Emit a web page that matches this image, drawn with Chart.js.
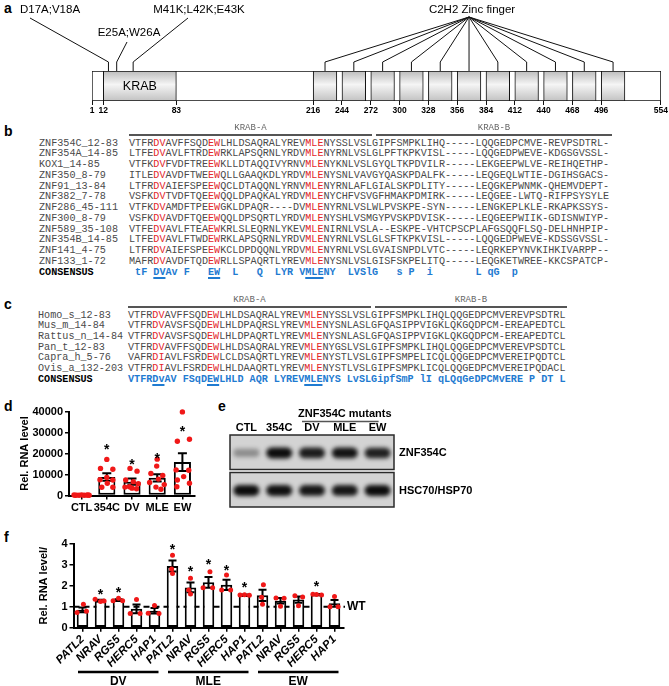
<!DOCTYPE html>
<html>
<head>
<meta charset="utf-8">
<script src="https://cdn.jsdelivr.net/npm/chart.js@4.4.1/dist/chart.umd.min.js"></script>
<style>
html,body{margin:0;padding:0;background:#fff;}
body{width:669px;height:686px;position:relative;overflow:hidden;}
canvas{position:absolute;display:block;}
.plabel{position:absolute;font:bold 14px "Liberation Sans",Arial,sans-serif;line-height:14px;color:#000;}
.mono{position:absolute;font-family:"Liberation Mono","Courier New",monospace;font-size:10.15px;white-space:pre;color:#4a4a4a;}
.red{color:#e3262a;}
.cons{color:#1f7bd1;font-weight:bold;}
.cname{color:#000;font-weight:bold;}
.ul{text-decoration:underline;text-decoration-thickness:1.5px;text-underline-offset:2px;}
.hline{position:absolute;background:#555;height:2px;}
.htext{position:absolute;font-family:"Liberation Mono","Courier New",monospace;font-size:9px;color:#666;line-height:10px;transform:translateX(-50%);white-space:pre;}
</style>
</head>
<body>
<script>
// ================= DATA =================
// Panel a : ZNF354C protein map
const proteinLength = 554;
const domainNames = ['KRAB'];
const domainStarts = [12];
const domainEnds = [83];
const zincFingerStarts = [216, 244, 272, 300, 328, 356, 384, 412, 440, 468, 496];
const zincFingerLength = 23;
const proteinTicks = [1, 12, 83, 216, 244, 272, 300, 328, 356, 384, 412, 440, 468, 496, 554];
const mutationLabels = ['D17A;V18A', 'E25A;W26A', 'M41K;L42K;E43K'];
const mutationSites = [17, 25, 41];
const zincFingerLabel = 'C2H2 Zinc finger';

// Panel b : KRAB alignment of paralogs
const bNames = ['ZNF354C_12-83','ZNF354A_14-85','KOX1_14-85','ZNF350_8-79','ZNF91_13-84','ZNF382_7-78','ZNF286_45-111','ZNF300_8-79','ZNF589_35-108','ZNF354B_14-85','ZNF141_4-75','ZNF133_1-72'];
const bSeqs = [
 'VTFRDVAVFFSQDEWLHLDSAQRALYREVMLENYSSLVSLGIPFSMPKLIHQ-----LQQGEDPCMVE-REVPSDTRL-',
 'LTFEDVAVLFTRDEWRKLAPSQRNLYRDVMLENYRNLVSLGLPFTKPKVISL-----LQQGEDPWEVE-KDGSGVSSL-',
 'VTFKDVFVDFTREEWKLLDTAQQIVYRNVMLENYKNLVSLGYQLTKPDVILR-----LEKGEEPWLVE-REIHQETHP-',
 'ITLEDVAVDFTWEEWQLLGAAQKDLYRDVMLENYSNLVAVGYQASKPDALFK-----LEQGEQLWTIE-DGIHSGACS-',
 'LTFRDVAIEFSPEEWQCLDTAQQNLYRNVMLENYRNLAFLGIALSKPDLITY-----LEQGKEPWNMK-QHEMVDEPT-',
 'VSFKDVTVDFTQEEWQQLDPAQKALYRDVMLENYCHFVSVGFHMAKPDMIRK-----LEQGEE-LWTQ-RIFPSYSYLE',
 'VTFKDVAMDFTPEEWGKLDPAQR----DVMLENYRNLVSLWLPVSKPE-SYN-----LENGKEPLKLE-RKAPKSSYS-',
 'VSFKDVAVDFTQEEWQQLDPSQRTLYRDVMLENYSHLVSMGYPVSKPDVISK-----LEQGEEPWIIK-GDISNWIYP-',
 'VTFEDVAVLFTEAEWKRLSLEQRNLYKEVMLENIRNLVSLA--ESKPE-VHTCPSCPLAFGSQQFLSQ-DELHNHPIP-',
 'LTFEDVAVLFTWDEWRKLAPSQRNLYRDVMLENYRNLVSLGLSFTKPKVISL-----LQQGEDPWEVE-KDSSGVSSL-',
 'LTFRDVAIEFSPEEWKCLDPDQQNLYRDVMLENYRNLVSLGVAISNPDLVTC-----LEQRKEPYNVKIHKIVARPP--',
 'MAFRDVAVDFTQDEWRLLSPAQRTLYREVMLENYSNLVSLGISFSKPELITQ-----LEQGKETWREE-KKCSPATCP-'
];
const bConsensus = ' tF DVAv F   EW  L   Q  LYR VMLENY  LVSlG   s P  i       L qG  p';

// Panel c : KRAB alignment of orthologs
const cNames = ['Homo_s_12-83','Mus_m_14-84','Rattus_n_14-84','Pan_t_12-83','Capra_h_5-76','Ovis_a_132-203'];
const cSeqs = [
 'VTFRDVAVFFSQDEWLHLDSAQRALYREVMLENYSSLVSLGIPFSMPKLIHQLQQGEDPCMVEREVPSDTRL',
 'VTFRDVAVSFSQDEWLHLDPAQRSLYREVMLENYSNLASLGFQASIPPVIGKLQKGQDPCM-EREAPEDTCL',
 'VTFRDVAVSFSQDEWLHLDPAQRTLYREVMLENYSNLASLGFQASIPPVIGKLQKGQDPCM-EREAPEDTCL',
 'VTFRDVAVFFSQDEWLHLDSAQRALYREVMLENYGSLVSLGIPFSMPKLIHQLQQGEDPCMVEREVPSDTCL',
 'VAFRDIAVLFSRDEWLCLDSAQRTLYREVMLENYSTLVSLGIPFSMPELICQLQQGEDPCMVEREIPQDTCL',
 'VTFRDIAVLFSRDEWLHLDAAQRTLYREVMLENYSTLVSLGIPFSMPKLICQLQQGEDPCMVEREIPQDACL'
];
const cConsensus = 'VTFRDvAV FSqDEWLHLD AQR LYREVMLENYS LvSLGipfSmP lI qLQqGeDPCMvERE P DT L';
const mutatedColumns = [4, 5, 13, 14, 29, 30, 31];
const underlinedRuns = [[4, 5], [13, 14], [29, 31]];
const krabLabels = ['KRAB-A', 'KRAB-B'];

// Panel d : RNA levels
const dCategories = ['CTL', '354C', 'DV', 'MLE', 'EW'];
const dMeans = [150, 8800, 6600, 8400, 15900];
const dSems = [40, 1800, 1450, 1750, 4200];
const dPoints = [
 [250, 180, 120, 300, 90, 200, 150, 60, 260],
 [17200, 12900, 12500, 8600, 7500, 7400, 5800, 3900, 3900],
 [12900, 11600, 7400, 6600, 5600, 4000, 3500, 3200, 4200],
 [17300, 14000, 10500, 9500, 7800, 6200, 5200, 4000, 3000],
 [39800, 26800, 25800, 12200, 12000, 9000, 7400, 5800, 4200]
];
const dStars = [null, 23300, 16100, 19300, 32100];
const dTicks = [0, 10000, 20000, 30000, 40000];

// Panel e : western blot
const eLanes = ['CTL', '354C', 'DV', 'MLE', 'EW'];
const eBlotNames = ['ZNF354C', 'HSC70/HSP70'];
const eZNF354C = [0.35, 1, 0.92, 0.97, 0.9];
const eHSC70 = [1, 0.98, 0.95, 0.95, 1];
const eGroupLabel = 'ZNF354C mutants';

// Panel f : target genes
const fGroups = ['DV', 'MLE', 'EW'];
const fGenes = ['PATL2', 'NRAV', 'RGS5', 'HERC5', 'HAP1'];
const fMeans = [0.85, 1.29, 1.32, 0.90, 0.81, 2.94, 1.92, 2.16, 2.04, 1.56, 1.54, 1.28, 1.34, 1.58, 1.16];
const fSems = [0.11, 0.04, 0.04, 0.21, 0.13, 0.26, 0.23, 0.26, 0.24, 0.02, 0.27, 0.13, 0.15, 0.02, 0.16];
const fPoints = [
 [1.12, 0.72, 0.78], [1.36, 1.25, 1.27], [1.40, 1.28, 1.28], [1.34, 0.68, 0.68], [1.06, 0.69, 0.68],
 [3.45, 2.80, 2.58], [2.35, 1.80, 1.60], [2.67, 1.90, 1.90], [2.51, 1.80, 1.80], [1.56, 1.57, 1.55],
 [2.05, 1.45, 1.12], [1.42, 1.40, 1.02], [1.52, 1.46, 1.04], [1.59, 1.58, 1.56], [1.48, 1.00, 1.00]
];
const fStars = [null, 1.75, 1.83, null, null, 3.86, 2.83, 3.14, 2.90, 2.07, null, null, null, 2.11, null];
const fTicks = [0, 1, 2, 3, 4];
const fReference = 1;
const fReferenceLabel = 'WT';

// ================= LAYOUT (positions / styles) =================
const FONT = '"Liberation Sans", Arial, Helvetica, sans-serif';
const RED = '#f01818';
const dJitter = [
 [-0.3, -0.2, -0.1, 0, 0.1, 0.2, 0.3, -0.25, 0.25],
 [0, -0.25, 0.24, 0, -0.27, 0.24, 0.02, -0.2, 0.24],
 [-0.08, 0.2, -0.25, 0.05, 0.25, -0.28, 0, 0.18, -0.1],
 [0, -0.02, -0.25, 0.22, 0.05, -0.3, 0.28, -0.05, 0.15],
 [0, 0.28, -0.2, -0.25, 0.25, 0.05, -0.2, 0.28, -0.22]
];
const fJitter = [
 [0.05, -0.3, 0.22], [-0.3, 0, 0.2], [0, -0.3, 0.23], [0, -0.35, 0.2], [0, -0.35, 0.25],
 [0, -0.05, 0], [0, -0.1, 0], [0.08, -0.3, 0.23], [0, -0.27, 0.23], [-0.25, 0, 0.27],
 [0.05, -0.05, 0], [-0.25, 0.2, 0], [-0.2, 0.23, 0], [-0.2, 0, 0.28], [0, -0.25, 0.2]
];

Chart.defaults.font.family = FONT;
Chart.defaults.color = '#000';
Chart.defaults.animation = false;
Chart.defaults.plugins.legend.display = false;
Chart.defaults.plugins.tooltip.enabled = false;

function mkCanvas(left, top, w, h) {
  const c = document.createElement('canvas');
  c.width = w; c.height = h;
  c.style.left = left + 'px'; c.style.top = top + 'px';
  c.style.width = w + 'px'; c.style.height = h + 'px';
  document.body.appendChild(c);
  return c;
}
function addDiv(cls, left, top, html) {
  const d = document.createElement('div');
  d.className = cls; d.style.left = left + 'px'; d.style.top = top + 'px';
  d.innerHTML = html; document.body.appendChild(d); return d;
}

// panel letters
[['a', 4, 1], ['b', 4, 124], ['c', 4, 297], ['d', 4, 399], ['e', 218, 399], ['f', 4, 530]]
  .forEach(([t, x, y]) => addDiv('plabel', x, y, t));

// ================= Panel a =================
const aLayout = { stub: 9, apexY: 17, textY: 10,
  mutText: [[50, 10], [129, 33], [199, 10]],
  mutLineEnd: [[30, 18], [127, 42], [188, 18]] };
function domainFill(ctx) {
  const ch = ctx.chart, a = ch.chartArea;
  if (!a) return '#dddddd';
  const g = ch.ctx.createLinearGradient(0, a.top, 0, a.bottom);
  g.addColorStop(0, '#bcbcbc'); g.addColorStop(0.45, '#f5f5f5'); g.addColorStop(1, '#c2c2c2');
  return g;
}
const barBase = { borderColor: '#111', borderWidth: 1, borderSkipped: false, grouped: false, barThickness: 30 };
const aDatasets = [];
zincFingerStarts.forEach(s => aDatasets.push(Object.assign({ label: 'ZF', data: [[s, s + zincFingerLength]], backgroundColor: domainFill }, barBase)));
domainNames.forEach((n, i) => aDatasets.push(Object.assign({ label: n, data: [[domainStarts[i], domainEnds[i]]], backgroundColor: domainFill }, barBase)));
aDatasets.push(Object.assign({ label: 'protein', data: [[1, proteinLength]], backgroundColor: '#ffffff' }, barBase));

new Chart(mkCanvas(0, 0, 669, 125), {
  type: 'bar',
  data: { labels: [''], datasets: aDatasets },
  options: {
    responsive: false, indexAxis: 'y',
    layout: { padding: { left: 92, right: 7, top: 71, bottom: 10 } },
    scales: {
      x: { type: 'linear', min: 1, max: proteinLength,
        afterBuildTicks: s => { s.ticks = proteinTicks.map(v => ({ value: v })); },
        grid: { display: true, drawOnChartArea: false, drawTicks: true, tickLength: 4, color: '#111', lineWidth: 1 },
        border: { display: false },
        ticks: { autoSkip: false, maxRotation: 0, padding: 1, font: { size: 8.5, weight: 'bold' }, color: '#000' },
        afterFit: s => { s.height = 14; } },
      y: { display: false }
    }
  },
  plugins: [{
    id: 'aAnnot',
    afterDatasetsDraw(chart) {
      const { ctx, chartArea: ar, scales: { x } } = chart;
      ctx.save();
      ctx.strokeStyle = '#111'; ctx.lineWidth = 1;
      mutationSites.forEach((aa, i) => {
        const px = x.getPixelForValue(aa);
        const [lx, ly] = aLayout.mutLineEnd[i];
        ctx.beginPath(); ctx.moveTo(px, ar.top); ctx.lineTo(px, ar.top - aLayout.stub); ctx.lineTo(lx, ly); ctx.stroke();
      });
      const first = zincFingerStarts[0] + zincFingerLength / 2;
      const last = zincFingerStarts[zincFingerStarts.length - 1] + zincFingerLength / 2;
      const apexX = x.getPixelForValue((first + last) / 2);
      zincFingerStarts.forEach(s => {
        const px = x.getPixelForValue(s + zincFingerLength / 2);
        ctx.beginPath(); ctx.moveTo(px, ar.top); ctx.lineTo(px, ar.top - aLayout.stub); ctx.lineTo(apexX, aLayout.apexY); ctx.stroke();
      });
      ctx.fillStyle = '#000'; ctx.textAlign = 'center'; ctx.textBaseline = 'middle';
      ctx.font = '11.5px ' + FONT;
      mutationLabels.forEach((t, i) => ctx.fillText(t, aLayout.mutText[i][0], aLayout.mutText[i][1]));
      ctx.fillText(zincFingerLabel, apexX + 3, aLayout.textY);
      ctx.font = '12.5px ' + FONT;
      domainNames.forEach((n, i) => ctx.fillText(n, x.getPixelForValue((domainStarts[i] + domainEnds[i]) / 2), (ar.top + ar.bottom) / 2 + 1));
      ctx.restore();
    }
  }]
});

// ================= Panels b & c (alignments) =================
function seqHTML(seq) {
  let h = '';
  for (let i = 0; i < seq.length; i++) h += mutatedColumns.includes(i) ? '<span class="red">' + seq[i] + '</span>' : seq[i];
  return h;
}
function consHTML(seq) {
  let h = '';
  for (let i = 0; i < seq.length; i++) {
    const run = underlinedRuns.find(r => r[0] === i);
    if (run) { h += '<span class="ul">' + seq.slice(run[0], run[1] + 1) + '</span>'; i = run[1]; continue; }
    h += seq[i];
  }
  return h;
}
function buildAlignment(names, seqs, consensus, L) {
  const half = L.rowH / 2;
  names.forEach((n, i) => {
    const y = L.firstRow + i * L.rowH - half;
    addDiv('mono', L.nameX, y, n).style.lineHeight = L.rowH + 'px';
    addDiv('mono', L.seqX, y, seqHTML(seqs[i])).style.lineHeight = L.rowH + 'px';
  });
  const cy = L.firstRow + names.length * L.rowH - half;
  addDiv('mono cname', L.nameX, cy, 'CONSENSUS').style.lineHeight = L.rowH + 'px';
  addDiv('mono cons', L.seqX, cy, consHTML(consensus)).style.lineHeight = L.rowH + 'px';
  L.lines.forEach((ln, k) => {
    const d = addDiv('hline', ln[0], L.lineY, ''); d.style.width = (ln[1] - ln[0]) + 'px';
    addDiv('htext', (ln[0] + ln[1]) / 2, L.textY - 5, krabLabels[k]);
  });
}
buildAlignment(bNames, bSeqs, bConsensus, { nameX: 39, seqX: 129, firstRow: 144, rowH: 10.75, lineY: 134, textY: 128, lines: [[129, 372], [376, 612]] });
buildAlignment(cNames, cSeqs, cConsensus, { nameX: 38, seqX: 128, firstRow: 316, rowH: 10.7, lineY: 306, textY: 300, lines: [[128, 371], [375, 567]] });

// ================= helpers for bar+dot charts =================
function errorBarPlugin(means, sems, cap) {
  return { id: 'errbars', afterDatasetDraw(chart, args) {
    if (args.meta.type !== 'bar') return;
    const { ctx } = chart, y = chart.scales.y;
    ctx.save(); ctx.strokeStyle = '#000'; ctx.lineWidth = 2;
    args.meta.data.forEach((el, i) => {
      const hi = y.getPixelForValue(means[i] + sems[i]);
      const lo = y.getPixelForValue(Math.max(0, means[i] - sems[i]));
      ctx.beginPath();
      ctx.moveTo(el.x, hi); ctx.lineTo(el.x, lo);
      ctx.moveTo(el.x - cap, hi); ctx.lineTo(el.x + cap, hi);
      ctx.moveTo(el.x - cap, lo); ctx.lineTo(el.x + cap, lo);
      ctx.stroke();
    });
    ctx.restore();
  } };
}
function drawStars(chart, stars, size) {
  const { ctx } = chart, x = chart.scales.x, y = chart.scales.y;
  ctx.save(); ctx.fillStyle = '#000'; ctx.font = 'bold ' + size + 'px ' + FONT;
  ctx.textAlign = 'center'; ctx.textBaseline = 'alphabetic';
  stars.forEach((v, i) => { if (v !== null) ctx.fillText('*', x.getPixelForValue(i), y.getPixelForValue(v) + size * 0.55); });
  ctx.restore();
}
const axisGrid = { display: true, drawOnChartArea: false, drawTicks: true, tickLength: 4, color: '#000', lineWidth: 1.5, offset: false };
const axisBorder = { display: true, width: 2, color: '#000' };

// ================= Panel d =================
new Chart(mkCanvas(0, 395, 215, 140), {
  type: 'bar',
  data: { labels: dCategories, datasets: [
    { type: 'scatter', xAxisID: 'xj', yAxisID: 'y', order: 0, clip: false,
      data: dPoints.flatMap((arr, ci) => arr.map((v, k) => ({ x: ci + dJitter[ci][k], y: v }))),
      pointRadius: 2.7, pointBackgroundColor: RED, pointBorderWidth: 0 },
    { type: 'bar', xAxisID: 'x', yAxisID: 'y', order: 1, data: dMeans, grouped: false,
      backgroundColor: '#fff', borderColor: '#000', borderWidth: 2, borderSkipped: false,
      barPercentage: 0.68, categoryPercentage: 1 }
  ] },
  options: {
    responsive: false,
    layout: { padding: { left: 0, top: 16.5, right: 20, bottom: 14.5 } },
    scales: {
      x: { type: 'category', offset: true, grid: axisGrid, border: axisBorder,
        ticks: { font: { size: 11, weight: 'bold' }, padding: 2, maxRotation: 0, autoSkip: false },
        afterFit: s => { s.height = 25; } },
      xj: { type: 'linear', offset: false, grid: { offset: false }, min: -0.5, max: dCategories.length - 0.5, display: false },
      y: { type: 'linear', min: 0, max: 40000,
        afterBuildTicks: s => { s.ticks = dTicks.map(v => ({ value: v })); },
        grid: axisGrid, border: axisBorder,
        ticks: { font: { size: 11, weight: 'bold' }, padding: 2, callback: v => String(v) },
        title: { display: true, text: 'Rel. RNA level', font: { size: 11, weight: 'bold' }, padding: { top: 18.5, bottom: 0 } },
        afterFit: s => { s.width = 69; } }
    }
  },
  plugins: [errorBarPlugin(dMeans, dSems, 4.5), { id: 'dstars', afterDraw(chart) { drawStars(chart, dStars, 14); } }]
});

// ================= Panel e (blot) =================
const eLayout = { gap: 3, bandW: 26, bandH: 11, bandY: 0.52, blur: 2.2, laneLabelY: 33, groupTextY: 19, groupLineY: 26.5 };
new Chart(mkCanvas(220, 395, 449, 125), {
  type: 'bar',
  data: { labels: eLanes, datasets: [
    { label: eBlotNames[0], data: eZNF354C, backgroundColor: 'rgba(0,0,0,0)' },
    { label: eBlotNames[1], data: eHSC70, backgroundColor: 'rgba(0,0,0,0)' }
  ] },
  options: {
    responsive: false,
    layout: { padding: { left: 10, right: 275, top: 30, bottom: 13 } },
    scales: {
      x: { position: 'top', grid: { display: false, drawTicks: false }, border: { display: false },
        ticks: { display: false }, afterFit: s => { s.height = 10; } },
      y: { display: false, min: 0, max: 1 }
    }
  },
  plugins: [{
    id: 'blot',
    beforeDatasetsDraw(chart) {
      const { ctx, chartArea: a, scales: { x } } = chart;
      const rowH = (a.bottom - a.top - eLayout.gap) / 2;
      chart.data.datasets.forEach((ds, r) => {
        const top = a.top + r * (rowH + eLayout.gap);
        ctx.save();
        ctx.fillStyle = '#d3d3d3';
        ctx.fillRect(a.left, top, a.right - a.left, rowH);
        ctx.beginPath(); ctx.rect(a.left, top, a.right - a.left, rowH); ctx.clip();
        ctx.filter = 'blur(' + eLayout.blur + 'px)';
        ds.data.forEach((v, i) => {
          const cx = x.getPixelForValue(i), cy = top + rowH * eLayout.bandY;
          const h = eLayout.bandH * (0.6 + 0.4 * v);
          ctx.fillStyle = 'rgba(12,12,12,' + v + ')';
          ctx.beginPath();
          ctx.roundRect(cx - eLayout.bandW / 2, cy - h / 2, eLayout.bandW, h, h / 2);
          ctx.fill();
        });
        ctx.restore();
        ctx.save();
        ctx.strokeStyle = '#2a2a2a'; ctx.lineWidth = 1.5;
        ctx.strokeRect(a.left, top, a.right - a.left, rowH);
        ctx.fillStyle = '#000'; ctx.font = 'bold 11px ' + FONT; ctx.textAlign = 'left'; ctx.textBaseline = 'middle';
        ctx.fillText(ds.label, a.right + 5, top + rowH / 2 + 1);
        ctx.restore();
      });
      ctx.save();
      ctx.fillStyle = '#000'; ctx.font = 'bold 11px ' + FONT; ctx.textAlign = 'center'; ctx.textBaseline = 'middle';
      chart.data.labels.forEach((l, i) => ctx.fillText(l, x.getPixelForValue(i), eLayout.laneLabelY));
      const x0 = x.getPixelForValue(2) - 10, x1 = x.getPixelForValue(4) + 1;
      ctx.strokeStyle = '#555'; ctx.lineWidth = 1.5;
      ctx.beginPath(); ctx.moveTo(x0, eLayout.groupLineY); ctx.lineTo(x1, eLayout.groupLineY); ctx.stroke();
      ctx.fillText(eGroupLabel, (x.getPixelForValue(2) + x.getPixelForValue(4)) / 2, eLayout.groupTextY);
      ctx.restore();
    }
  }]
});

// ================= Panel f =================
const fLabels = fGroups.flatMap(() => fGenes);
const fLayout = { groupLineY: 137, groupTextY: 147, refEndX: 345, refTextX: 347 };
new Chart(mkCanvas(0, 535, 369, 151), {
  type: 'bar',
  data: { labels: fLabels, datasets: [
    { type: 'scatter', xAxisID: 'xj', yAxisID: 'y', order: 0, clip: false,
      data: fPoints.flatMap((arr, ci) => arr.map((v, k) => ({ x: ci + fJitter[ci][k], y: v }))),
      pointRadius: 2.5, pointBackgroundColor: RED, pointBorderWidth: 0 },
    { type: 'bar', xAxisID: 'x', yAxisID: 'y', order: 1, data: fMeans, grouped: false,
      backgroundColor: '#fff', borderColor: '#000', borderWidth: 2, borderSkipped: false,
      barPercentage: 0.64, categoryPercentage: 1 }
  ] },
  options: {
    responsive: false,
    layout: { padding: { left: 0, top: 8.7, right: 25.5, bottom: 0 } },
    scales: {
      x: { type: 'category', offset: true, grid: axisGrid, border: axisBorder,
        ticks: { font: { size: 11.5, weight: 'bold', style: 'italic' }, padding: 1, minRotation: 45, maxRotation: 45, autoSkip: false },
        afterFit: s => { s.height = 58.3; } },
      xj: { type: 'linear', offset: false, grid: { offset: false }, min: -0.5, max: fLabels.length - 0.5, display: false },
      y: { type: 'linear', min: 0, max: 4,
        afterBuildTicks: s => { s.ticks = fTicks.map(v => ({ value: v })); },
        grid: axisGrid, border: axisBorder,
        ticks: { font: { size: 11, weight: 'bold' }, padding: 2 },
        title: { display: true, text: 'Rel. RNA level/', font: { size: 11, weight: 'bold' }, padding: { top: 37.5, bottom: 0 } },
        afterFit: s => { s.width = 73.5; } }
    }
  },
  plugins: [
    { id: 'refline', beforeDatasetsDraw(chart) {
      const { ctx, chartArea: a, scales: { y } } = chart;
      const py = y.getPixelForValue(fReference);
      ctx.save(); ctx.strokeStyle = '#000'; ctx.lineWidth = 2; ctx.setLineDash([6, 4]);
      ctx.beginPath(); ctx.moveTo(a.left, py); ctx.lineTo(fLayout.refEndX, py); ctx.stroke();
      ctx.restore();
    } },
    errorBarPlugin(fMeans, fSems, 4),
    { id: 'fannot', afterDraw(chart) {
      drawStars(chart, fStars, 14);
      const { ctx, scales: { x, y } } = chart;
      ctx.save();
      ctx.fillStyle = '#000'; ctx.font = 'bold 12px ' + FONT; ctx.textAlign = 'left'; ctx.textBaseline = 'middle';
      ctx.fillText(fReferenceLabel, fLayout.refTextX, y.getPixelForValue(fReference));
      ctx.strokeStyle = '#000'; ctx.lineWidth = 2.5; ctx.textAlign = 'center';
      fGroups.forEach((g, gi) => {
        const s = gi * fGenes.length, e = s + fGenes.length - 1;
        const x0 = x.getPixelForValue(s) - 4.5, x1 = x.getPixelForValue(e) + 4;
        ctx.beginPath(); ctx.moveTo(x0, fLayout.groupLineY); ctx.lineTo(x1, fLayout.groupLineY); ctx.stroke();
        ctx.fillText(g, (x0 + x1) / 2, fLayout.groupTextY);
      });
      ctx.restore();
    } }
  ]
});
</script>
</body>
</html>
